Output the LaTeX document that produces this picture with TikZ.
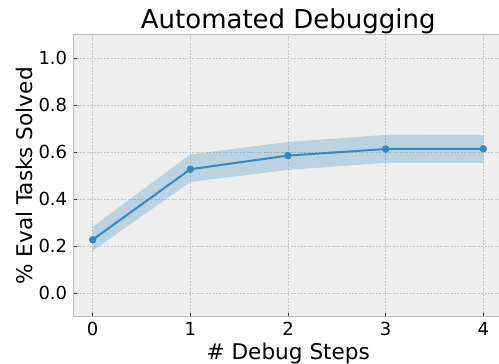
\documentclass[tikz,border=0pt]{standalone}
\usepackage{fontspec}
\setmainfont{DejaVu Sans}
\definecolor{lineblue}{HTML}{348ABD}
\definecolor{axbg}{HTML}{EEEEEE}
\definecolor{axedge}{HTML}{BCBCBC}
\definecolor{gridc}{HTML}{C4C4C4}
\definecolor{tickc}{HTML}{333333}
\tikzset{
  gridline/.style={draw=gridc, line width=0.6pt, dash pattern=on 2pt off 1.4pt},
  band/.style={fill=lineblue, fill opacity=0.27, draw=none},
  series/.style={draw=lineblue, line width=2pt},
  marker/.style={circle, fill=lineblue, inner sep=0pt, minimum size=7.2pt},
  tickmark/.style={draw=tickc, line width=0.9pt},
  ticklabel/.style={inner sep=0pt, font=\fontsize{18}{18}\selectfont},
  axislabel/.style={inner sep=0pt, font=\fontsize{21.6}{21.6}\selectfont},
  titlelabel/.style={inner sep=0pt, font=\fontsize{26}{26}\selectfont},
}
\begin{document}
\begin{tikzpicture}[x=1pt,y=1pt]
\useasboundingbox (0,0) rectangle (499,364);
\clip (0,0) rectangle (499,364);
\begin{scope}[shift={(92.7,70.7)}, x=97.65pt, y=235pt]
  % axes background
  \fill[axbg] (-0.2,-0.1) rectangle (4.2,1.1);
  % grid
  \foreach \gx in {0,...,4} \draw[gridline] (\gx,-0.1) -- (\gx,1.1);
  \foreach \gy in {0,0.2,0.4,0.6,0.8,1.0} \draw[gridline] (-0.2,\gy) -- (4.2,\gy);
  % confidence band
  \fill[band] (0,0.283) -- (1,0.591) -- (2,0.644) -- (3,0.674) -- (4,0.673)
    -- (4,0.555) -- (3,0.555) -- (2,0.525) -- (1,0.474) -- (0,0.181) -- cycle;
  % data points
  \node[marker] (p0) at (0,0.228) {};
  \node[marker] (p1) at (1,0.528) {};
  \node[marker] (p2) at (2,0.586) {};
  \node[marker] (p3) at (3,0.614) {};
  \node[marker] (p4) at (4,0.615) {};
  \draw[series] (p0.center) -- (p1.center) -- (p2.center) -- (p3.center) -- (p4.center);
  \foreach \p in {p0,p1,p2,p3,p4} \fill[lineblue] (\p) circle (3.6pt);
  % ticks
  \foreach \gx in {0,...,4} {
    \draw[tickmark] (\gx,-0.1) -- ++(0,3.5pt);
    \node[ticklabel, anchor=base] (xl\gx) at ([yshift=-18.3pt]\gx,-0.1) {\gx};
  }
  \foreach \gy in {0.0,0.2,0.4,0.6,0.8,1.0} {
    \draw[tickmark] (-0.2,\gy) -- ++(3.5pt,0);
    \node[ticklabel, anchor=base east] (yl\gy) at ([xshift=-5.8pt,yshift=-6.5pt]-0.2,\gy) {\gy};
  }
  % frame
  \draw[axedge, line width=1.3pt] (-0.2,-0.1) rectangle (4.2,1.1);
\end{scope}
\node[titlelabel, anchor=base] (title) at (288.3,335.7) {Automated Debugging};
\node[axislabel, anchor=base] (xlabel) at (288.3,4.5) {\# Debug Steps};
\node[axislabel, anchor=base, rotate=90] (ylabel) at (32.3,188) {\% Eval Tasks Solved};
\end{tikzpicture}
\end{document}
